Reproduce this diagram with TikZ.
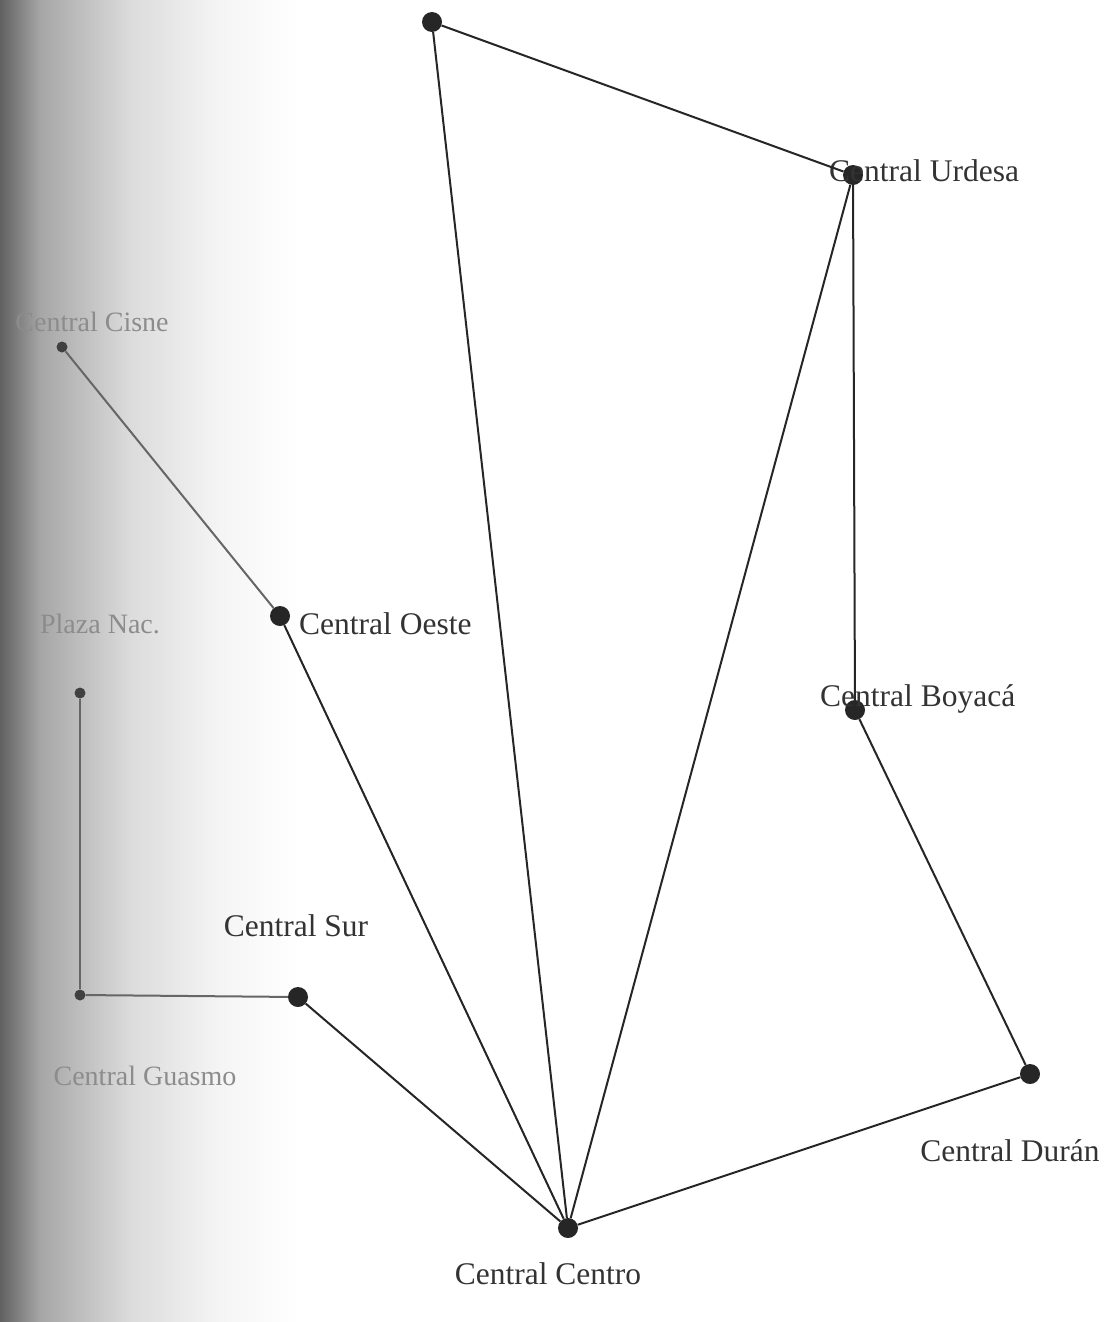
\documentclass[tikz,border=0pt]{standalone}
\usepackage{fontspec}
\setmainfont{Liberation Serif}
\begin{document}
\begin{tikzpicture}[x=1pt,y=-1pt,
  dot/.style={circle,fill=black!85,inner sep=0pt,minimum size=20pt},
  sdot/.style={circle,fill=black!75,inner sep=0pt,minimum size=11pt},
  lbl/.style={font=\fontsize{31.5}{33}\selectfont,text=black!80,inner sep=0pt},
  flbl/.style={font=\fontsize{28}{30}\selectfont,text=black!45,inner sep=0pt},
  edge/.style={line width=2pt,draw=black!85},
  fedge/.style={line width=2pt,draw=black!60}]
\useasboundingbox (0,0) rectangle (1110,1322);
\fill[white] (0,0) rectangle (1110,1322);
\shade[left color=black!62,right color=black!35] (0,0) rectangle (40,1322);
\shade[left color=black!35,right color=black!14] (39.5,0) rectangle (130,1322);
\shade[left color=black!14,right color=black!4] (129.5,0) rectangle (220,1322);
\shade[left color=black!4,right color=white] (219.5,0) rectangle (300,1322);
% nodes
\node[dot] (top) at (432,22) {};
\node[dot] (urdesa) at (853,175) {};
\node[dot] (boyaca) at (855,710) {};
\node[dot] (duran) at (1030,1074) {};
\node[dot] (centro) at (568,1228) {};
\node[dot] (sur) at (298,997) {};
\node[dot] (oeste) at (280,616) {};
\node[sdot] (cisne) at (62,347) {};
\node[sdot] (plaza) at (80,693) {};
\node[sdot] (guasmo) at (80,995) {};
% labels
\node[lbl,anchor=west] (lurdesa) at (829,171) {Central Urdesa};
\node[lbl,anchor=west] (lboyaca) at (820,699) {Central Boyacá};
\node[lbl] (lduran) at (1010,1151) {Central Durán};
\node[lbl] (lcentro) at (548,1274) {Central Centro};
\node[lbl] (lsur) at (296,926) {Central Sur};
\node[lbl,anchor=west] (loeste) at (299,624) {Central Oeste};
\node[flbl] (lcisne) at (92,322) {Central Cisne};
\node[flbl] (lplaza) at (100,624) {Plaza Nac.};
\node[flbl] (lguasmo) at (145,1076) {Central Guasmo};
% edges
\draw[edge] (top) -- (urdesa);
\draw[edge] (top) -- (centro);
\draw[edge] (urdesa) -- (centro);
\draw[edge] (urdesa) -- (boyaca);
\draw[edge] (boyaca) -- (duran);
\draw[edge] (duran) -- (centro);
\draw[edge] (centro) -- (sur);
\draw[edge] (centro) -- (oeste);
\draw[fedge] (oeste) -- (cisne);
\draw[fedge] (plaza) -- (guasmo);
\draw[fedge] (guasmo) -- (sur);
\end{tikzpicture}
\end{document}
